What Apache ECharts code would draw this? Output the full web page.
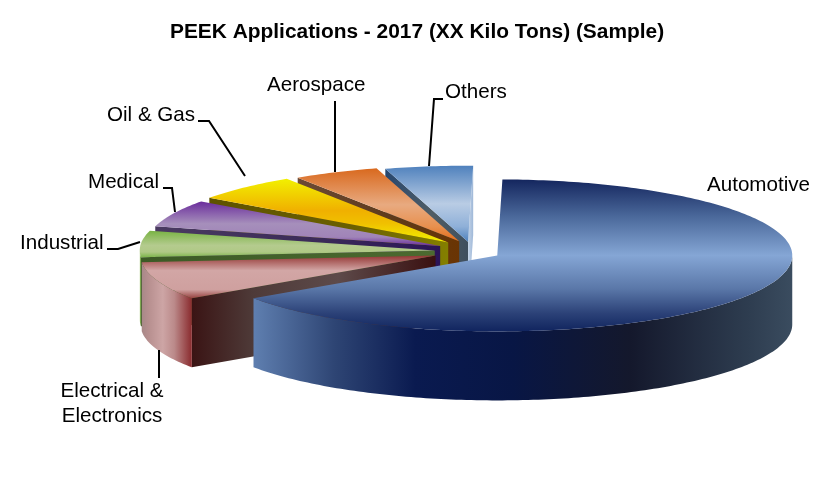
<!DOCTYPE html>
<html>
<head>
<meta charset="utf-8">
<style>html,body{margin:0;padding:0;background:#fff}#c{width:834px;height:501px}</style>
<script src="https://cdn.jsdelivr.net/npm/echarts@6/dist/echarts.min.js"></script>
</head>
<body>
<div id="c"></div>
<script>
const titleText = 'PEEK Applications - 2017 (XX Kilo Tons) (Sample)';
const categories = ['Automotive', 'Electrical &\nElectronics', 'Industrial', 'Medical', 'Oil & Gas', 'Aerospace', 'Others'];
const shares = [65.2, 8.1, 5.6, 5.8, 5.8, 4.7, 4.8];

// Projection of the tilted pie
const view = { cx: 470, cy: 251.5, rx: 295, ry: 76, depth: 69, startDeg: 1 };
const explodeX = [0.105, 0.124, 0.12, 0.112, 0.107, 0.0875, 0.05];
const explodeY = [0.108, 0.156, 0.156, 0.169, 0.165, 0.148, 0.13];

// Style per slice: top surface, outer wall, visible cut faces
const topStops = [
  [[0,'#14265e'],[.25,'#4c6a9c'],[.5,'#85a6d5'],[.72,'#5a77a8'],[.88,'#2c4278'],[1,'#10245e']],
  [[0,'#943634'],[.35,'#d2a6a5'],[.8,'#cfa09f'],[1,'#96403e']],
  [[0,'#79b344'],[.55,'#b4cb8e'],[.8,'#b0c986'],[1,'#7cb54a']],
  [[0,'#6a2c9c'],[.5,'#a68fbb'],[.8,'#a084b8'],[1,'#6a2c9c']],
  [[0,'#f2f000'],[.5,'#f0b000'],[.7,'#f0c000'],[1,'#f2f000']],
  [[0,'#d9691e'],[.5,'#e8aa80'],[.8,'#e8904e'],[1,'#e36c1a']],
  [[0,'#4f81bd'],[.5,'#b9cce4'],[.8,'#8fb0d8'],[1,'#4f81bd']]
];
const wallStops = [
  [[0,'#5f7fb0'],[.15,'#2e4574'],[.3,'#0a1a50'],[.48,'#081645'],[.7,'#14182c'],[.92,'#2e3d50'],[1,'#3a4c5f']],
  [[0,'#a88888'],[.15,'#b89090'],[.42,'#cda5a5'],[.65,'#bb8a8a'],[1,'#8a2b2e']],
  [[0,'#c8dca8'],[.4,'#77a248'],[1,'#6aa23a']],
  [[0,'#6a2c9c'],[1,'#6a2c9c']],
  [[0,'#f0d000'],[1,'#f0d000']],
  [[0,'#d9691e'],[1,'#d9691e']],
  [[0,'#4f81bd'],[1,'#4f81bd']]
];
const cutStops = [
  [[0,'#081645'],[1,'#081645']],
  [[0,'#3a1414'],[.25,'#4e3a38'],[.6,'#5d4a4a'],[1,'#3a1010']],
  [[0,'#3c5a25'],[1,'#4c6a30']],
  [[0,'#4a3a60'],[.6,'#3a2a58'],[1,'#2c1458']],
  [[0,'#5e5200'],[.6,'#6a6000'],[1,'#847f00']],
  [[0,'#6b4a35'],[.6,'#5e3a1a'],[1,'#6a3403']],
  [[0,'#27476f'],[.55,'#505d65'],[1,'#3f4f5e']]
];
const endStops = [[0,'#c4d4e8'],[1,'#9fb8d8']];

// Label boxes and leader lines are page layout, not data
const labelLayout = [
  { x: 707, y: 185, align: 'left', leader: null },
  { x: 112, y: 404, align: 'center', leader: [[159,350],[159,378]] },
  { x: 20, y: 243, align: 'left', leader: [[140,242],[118,249],[107,249]] },
  { x: 88, y: 182, align: 'left', leader: [[175,212],[172,188],[163,188]] },
  { x: 107, y: 115, align: 'left', leader: [[245,176],[209,121],[198,121]] },
  { x: 267, y: 85, align: 'left', leader: [[335,172],[335,101]] },
  { x: 445, y: 92, align: 'left', leader: [[429,166],[434,99],[443,99]] }
];

const total = shares.reduce((a, b) => a + b, 0);
const spans = [];
let cursor = view.startDeg;
shares.forEach(v => {
  const d = v / total * 360;
  spans.push([cursor, cursor + d]);
  cursor += d;
});

function linear(stops, horizontal) {
  return {
    type: 'linear', x: 0, y: 0, x2: horizontal ? 1 : 0, y2: horizontal ? 0 : 1,
    colorStops: stops.map(s => ({ offset: s[0], color: s[1] }))
  };
}
const rad = d => d * Math.PI / 180;
const ux = t => Math.sin(rad(t)) * view.rx;
const uy = t => -Math.cos(rad(t)) * view.ry;

function renderSlice(params, api) {
  const i = api.value(0);
  const [a0, a1] = spans[i];
  const mid = (a0 + a1) / 2;
  const ax = view.cx + explodeX[i] * ux(mid);
  const ay = view.cy + explodeY[i] * uy(mid);
  const children = [];
  const d = view.depth;

  // cut faces
  const face = (t, stops) => {
    const ox = ax + ux(t), oy = ay + uy(t);
    children.push({ type: 'polygon', shape: { points: [[ax, ay], [ox, oy], [ox, oy + d], [ax, ay + d]] },
      style: { fill: linear(stops, true) } });
  };
  if (Math.sin(rad(a0)) < 0) face(a0, cutStops[i]);
  if (Math.sin(rad(a1)) > 0) face(a1, i === 6 ? endStops : cutStops[i]);

  // outer wall: the part of the rim facing the viewer
  for (const shift of [0, 360]) {
    const lo = Math.max(a0, 90 + shift), hi = Math.min(a1, 270 + shift);
    if (hi > lo) {
      const up = [], down = [];
      for (let t = lo; t < hi; t += 1) { up.push([ax + ux(t), ay + uy(t)]); }
      up.push([ax + ux(hi), ay + uy(hi)]);
      up.forEach(p => down.unshift([p[0], p[1] + d]));
      children.push({ type: 'polygon', shape: { points: up.concat(down) },
        style: { fill: linear(wallStops[i], true) } });
    }
  }

  // top surface
  const pts = [[ax, ay]];
  for (let t = a0; t < a1; t += 1) pts.push([ax + ux(t), ay + uy(t)]);
  pts.push([ax + ux(a1), ay + uy(a1)]);
  children.push({ type: 'polygon', shape: { points: pts },
    style: { fill: linear(topStops[i], false) } });

  return { type: 'group', children };
}

function renderLabels(params, api) {
  const i = api.value(0);
  const lay = labelLayout[i];
  const children = [{
    type: 'text',
    style: { x: lay.x, y: lay.y, text: categories[i], fill: '#000', align: lay.align, verticalAlign: 'middle',
      font: '20.6px "Liberation Sans", Arial, sans-serif', lineHeight: 25 }
  }];
  if (lay.leader) {
    children.push({ type: 'polyline', shape: { points: lay.leader },
      style: { stroke: '#000', lineWidth: 2, fill: 'none' } });
  }
  return { type: 'group', children };
}

const order = categories.map((c, i) => i).reverse();
const chart = echarts.init(document.getElementById('c'), null, { renderer: 'canvas' });
chart.setOption({
  animation: false,
  backgroundColor: '#fff',
  title: {
    text: titleText, left: 165, top: 17,
    textStyle: { fontFamily: '"Liberation Sans", Arial, sans-serif', fontSize: 20.9, fontWeight: 'bold', color: '#000' }
  },
  series: [
    { type: 'custom', name: 'Slices', coordinateSystem: 'none', renderItem: renderSlice, silent: true,
      data: order.map(i => ({ name: categories[i], value: [i, shares[i]] })) },
    { type: 'custom', name: 'Labels', coordinateSystem: 'none', renderItem: renderLabels, silent: true, z: 3,
      data: order.map(i => ({ name: categories[i], value: [i, shares[i]] })) }
  ]
});
</script>
</body>
</html>
